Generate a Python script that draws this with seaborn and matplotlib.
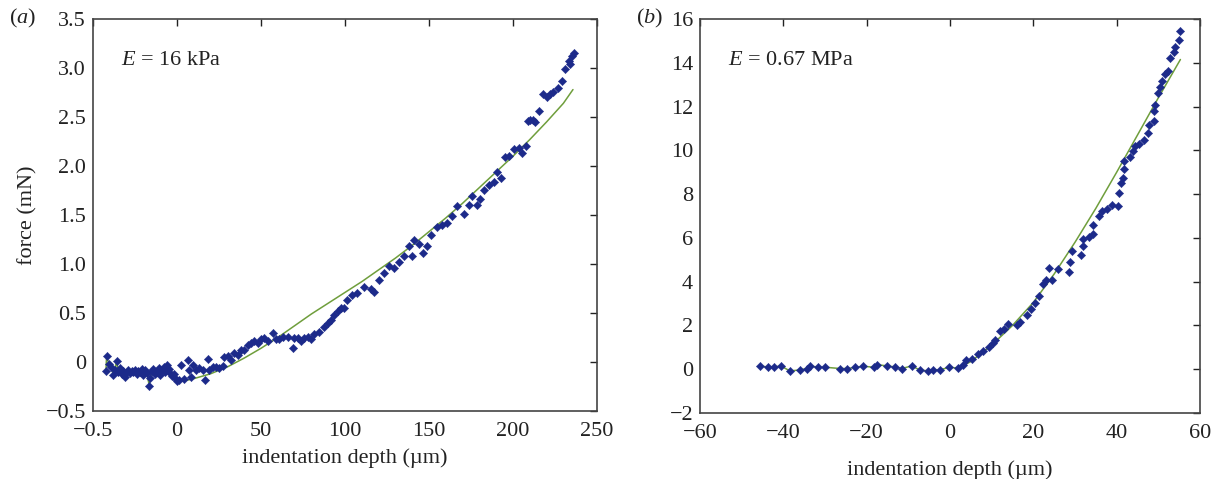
import matplotlib
matplotlib.use("Agg")
import matplotlib.pyplot as plt
import seaborn as sns
import pandas as pd

# ---------------- data ----------------
# panel (a): E = 16 kPa
a_x = [-42.3, -41.9, -40.5, -39.0, -38.0, -37.0, -36.0, -35.0, -34.0, -33.0, -32.0,
       -31.0, -30.0, -29.0, -28.0, -27.0, -26.0, -25.0, -24.0, -23.0, -22.0, -21.0,
       -20.0, -19.0, -18.0, -16.5, -16.0, -15.0, -14.0, -13.0, -12.0, -11.0, -10.0,
       -9.0, -8.0, -7.0, -6.0, -5.0, -4.0, -3.0, -2.0, -1.0, 0.0,
       1.4, 2.4, 4.4, 6.3, 7.3, 8.3, 9.3, 11.3, 13.3, 15.3, 16.9, 18.3, 19.2, 21.2,
       23.2, 25.2, 27.2, 28.2, 30.2, 32.1, 34.1, 36.1, 38.1, 40.1, 42.1, 44.0, 46.0,
       48.0, 50.0, 52.0, 54.0, 57.0, 58.9, 60.9, 62.9, 65.9, 68.8, 69.8, 71.8, 73.8,
       75.8, 77.8, 79.8, 81.7, 84.7, 87.7, 89.7, 91.7, 93.7, 95.6, 97.6,
       99.4, 101.4, 104.4, 107.4, 111.3, 115.3, 117.3, 120.3, 123.2, 126.2, 129.2,
       132.1, 135.1, 138.1, 140.1, 141.0, 144.0, 146.6, 149.0, 150.9, 154.9, 157.9,
       160.9, 163.8, 166.8, 171.1, 173.7, 175.7, 178.7, 180.6, 182.6, 185.6, 188.5,
       190.5, 193.1, 195.4, 197.4, 200.4, 203.4, 205.4, 207.9, 209.2, 210.3, 212.2,
       213.2, 215.7, 218.1, 220.1, 222.1, 224.1, 226.5, 229.1, 231.1, 233.1, 234.0,
       235.1, 236.1]
a_y = [-0.09, 0.06, -0.02, -0.05, -0.13, -0.08, 0.01, -0.10, -0.06, -0.12, -0.09,
       -0.15, -0.10, -0.08, -0.11, -0.09, -0.10, -0.08, -0.12, -0.09, -0.10, -0.07,
       -0.13, -0.08, -0.11, -0.24, -0.16, -0.09, -0.07, -0.12, -0.10, -0.06, -0.13,
       -0.08, -0.05, -0.10, -0.03, -0.07, -0.11, -0.14, -0.12, -0.16, -0.19,
       -0.18, -0.03, -0.17, 0.02, -0.08, -0.15, -0.03, -0.08, -0.06, -0.08, -0.18,
       0.03, -0.08, -0.05, -0.05, -0.06, -0.04, 0.05, 0.06, 0.02, 0.09, 0.07, 0.12,
       0.12, 0.17, 0.19, 0.21, 0.19, 0.23, 0.24, 0.21, 0.30, 0.23, 0.23, 0.26, 0.26,
       0.14, 0.24, 0.24, 0.21, 0.24, 0.26, 0.23, 0.29, 0.31, 0.36, 0.40, 0.43, 0.48,
       0.52, 0.55,
       0.55, 0.63, 0.68, 0.70, 0.77, 0.74, 0.71, 0.84, 0.91, 0.98, 0.96, 1.02, 1.08,
       1.18, 1.08, 1.25, 1.20, 1.11, 1.18, 1.30, 1.38, 1.40, 1.42, 1.49, 1.59, 1.51,
       1.60, 1.69, 1.60, 1.66, 1.76, 1.81, 1.84, 1.94, 1.88, 2.09, 2.10, 2.17, 2.18,
       2.13, 2.20, 2.46, 2.47, 2.47, 2.45, 2.56, 2.73, 2.70, 2.73, 2.76, 2.80, 2.87,
       2.99, 3.07, 3.04, 3.12, 3.15]
# fitted curve of panel (a)
a_fit_x = [-42.3, -41.9, -40.5, -39.0, -38.0, -37.0, -36.0, -35.0, -34.0, -33.0,
           -31.0, -29.0, -27.0, -25.0, -23.0, -21.0, -19.0, -18.0, -16.5, -15.0,
           -13.0, -11.0, -9.0, -7.0, -5.0, -3.0, -1.0, 0.0,
           5, 10, 20, 30, 40, 50, 60, 70, 80, 90, 100, 110, 120, 130, 140, 150,
           160, 170, 180, 190, 200, 210, 220, 230, 235.7]
a_fit_y = [-0.09, 0.06, -0.02, -0.05, -0.13, -0.08, 0.01, -0.10, -0.06, -0.12,
           -0.15, -0.08, -0.09, -0.08, -0.09, -0.07, -0.08, -0.11, -0.24, -0.09,
           -0.12, -0.06, -0.08, -0.10, -0.07, -0.14, -0.16, -0.19,
           -0.19, -0.17, -0.12, -0.05, 0.04, 0.14, 0.25, 0.37, 0.49, 0.60, 0.71,
           0.82, 0.94, 1.06, 1.19, 1.33, 1.47, 1.62, 1.78, 1.94, 2.10, 2.27, 2.45,
           2.64, 2.78]
a_xticks = [-50, 0, 50, 100, 150, 200, 250]
a_xticklabels = ["\u22120.5", "0", "50", "100", "150", "200", "250"]
a_yticks = [-0.5, 0, 0.5, 1.0, 1.5, 2.0, 2.5, 3.0, 3.5]
a_yticklabels = ["\u22120.5", "0", "0.5", "1.0", "1.5", "2.0", "2.5", "3.0", "3.5"]

# panel (b): E = 0.67 MPa
b_x = [-45.6, -43.8, -42.2, -40.6, -38.4, -36.0, -34.4, -33.5, -31.7, -29.9, -26.3,
       -24.7, -22.7, -20.9, -18.3, -17.5, -15.1, -13.1, -11.6, -9.2, -7.3, -5.3,
       -4.0, -2.4, -0.2, 2.0,
       3.1, 3.9, 5.3, 6.7, 7.9, 9.3, 10.4, 10.9, 12.0, 13.0, 13.8, 16.0, 16.8, 18.4,
       19.4, 20.5, 21.3, 22.2, 23.0, 23.8, 24.4, 25.8, 28.6, 28.7, 29.2, 31.4, 31.9,
       31.9, 33.4, 34.3, 34.2, 35.7, 36.5, 37.6, 38.9, 40.4, 40.5, 41.0, 41.4, 41.8,
       41.8, 43.1, 43.8, 44.4, 45.4, 46.5, 47.6, 47.7, 48.9, 48.9, 49.3, 50.0, 50.5,
       50.9, 51.7, 52.4, 52.7, 53.7, 54.1, 54.9, 55.1]
b_y = [0.15, 0.10, 0.10, 0.15, -0.08, -0.03, 0.03, 0.15, 0.09, 0.09, 0.03,
       0.03, 0.08, 0.14, 0.09, 0.21, 0.15, 0.10, 0.03, 0.15, -0.03, -0.08,
       -0.03, -0.03, 0.09, 0.05,
       0.19, 0.42, 0.45, 0.70, 0.85, 1.00, 1.18, 1.33, 1.76, 1.82, 2.06, 2.02, 2.17,
       2.47, 2.73, 3.03, 3.33, 3.88, 4.09, 4.64, 4.09, 4.59, 4.44, 4.89, 5.42, 5.24,
       5.65, 5.95, 6.06, 6.18, 6.60, 7.01, 7.21, 7.31, 7.51, 7.47, 8.04, 8.53, 8.75,
       9.13, 9.51, 9.69, 9.96, 10.19, 10.29, 10.49, 10.79, 11.17, 11.35, 11.81,
       12.08, 12.61, 12.91, 13.17, 13.47, 13.62, 14.23, 14.47, 14.73, 15.03, 15.44]
b_fit_x = [-45.6, -43.8, -42.2, -40.6, -38.4, -36.0, -34.4, -33.5, -31.7, -29.9,
           -26.3, -24.7, -22.7, -20.9, -18.3, -17.5, -15.1, -13.1, -11.6, -9.2,
           -7.3, -5.3, -4.0, -2.4, -0.2, 2.0,
           5, 10, 15, 20, 25, 30, 35, 40, 45, 50, 55.3]
b_fit_y = [0.15, 0.10, 0.10, 0.15, -0.08, -0.03, 0.03, 0.15, 0.09, 0.09,
           0.03, 0.03, 0.08, 0.14, 0.09, 0.21, 0.15, 0.10, 0.03, 0.15,
           -0.03, -0.08, -0.03, -0.03, 0.09, 0.05,
           0.35, 1.10, 2.00, 3.05, 4.35, 5.80, 7.35, 9.00, 10.70, 12.40, 14.15]
b_xticks = [-60, -40, -20, 0, 20, 40, 60]
b_xticklabels = ["\u221260", "\u221240", "\u221220", "0", "20", "40", "60"]
b_yticks = [-2, 0, 2, 4, 6, 8, 10, 12, 14, 16]
b_yticklabels = ["\u22122", "0", "2", "4", "6", "8", "10", "12", "14", "16"]

# ---------------- styling ----------------
sns.set_style("white")
plt.rcParams["font.family"] = ["Liberation Serif", "DejaVu Serif"]
plt.rcParams["mathtext.fontset"] = "custom"
plt.rcParams["mathtext.rm"] = "Liberation Serif"
plt.rcParams["mathtext.it"] = "Liberation Serif:italic"

DOT = "#1c2a8a"
FIT = "#6f9e3c"
INK = "#222222"
FS = 16

fig = plt.figure(figsize=(12.22, 4.79), dpi=100)
ax1 = fig.add_axes([93 / 1222, 1 - 411 / 479, 504 / 1222, 392 / 479])
ax2 = fig.add_axes([700 / 1222, 1 - 413 / 479, 500 / 1222, 394 / 479])

panels = [
    (ax1, a_x, a_y, a_fit_x, a_fit_y, (-50, 250), (-0.5, 3.5),
     a_xticks, a_xticklabels, a_yticks, a_yticklabels, r"$E$ = 16 kPa", 5),
    (ax2, b_x, b_y, b_fit_x, b_fit_y, (-60, 60), (-2, 16),
     b_xticks, b_xticklabels, b_yticks, b_yticklabels, r"$E$ = 0.67 MPa", 12),
]

for ax, x, y, fx, fy, xl, yl, xt, xtl, yt, ytl, label, lp in panels:
    dfp = pd.DataFrame({"x": x, "y": y})
    dff = pd.DataFrame({"x": fx, "y": fy})
    sns.lineplot(data=dff, x="x", y="y", ax=ax, color=FIT, lw=1.1,
                 sort=False, estimator=None, zorder=2)
    sns.scatterplot(data=dfp, x="x", y="y", ax=ax, marker="D", s=18,
                    color=DOT, edgecolor=DOT, linewidth=0.3, zorder=3)
    ax.set_xlim(*xl)
    ax.set_ylim(*yl)
    ax.set_xticks(xt)
    ax.set_xticklabels(xtl)
    ax.set_yticks(yt)
    ax.set_yticklabels(ytl)
    ax.tick_params(direction="in", top=True, right=True, length=5, width=1,
                   labelsize=FS, colors=INK)
    ax.tick_params(axis="x", pad=8)
    ax.tick_params(axis="y", pad=5)
    for sp in ax.spines.values():
        sp.set_visible(True)
        sp.set_color("#444444")
        sp.set_linewidth(1.2)
    ax.set_xlabel("indentation depth (\u00b5m)", fontsize=FS, color=INK, labelpad=lp)
    ax.set_ylabel("")
    ax.text(0.055, 0.895, label, transform=ax.transAxes, fontsize=FS,
            color=INK, va="center", ha="left")

ax1.set_ylabel("force (mN)", fontsize=FS, color=INK, labelpad=6)

fig.text(9 / 1222, 1 - 18 / 479, r"($a$)", fontsize=FS, color=INK, va="center")
fig.text(636 / 1222, 1 - 18 / 479, r"($b$)", fontsize=FS, color=INK, va="center")

fig.savefig("out.png", dpi=100)
